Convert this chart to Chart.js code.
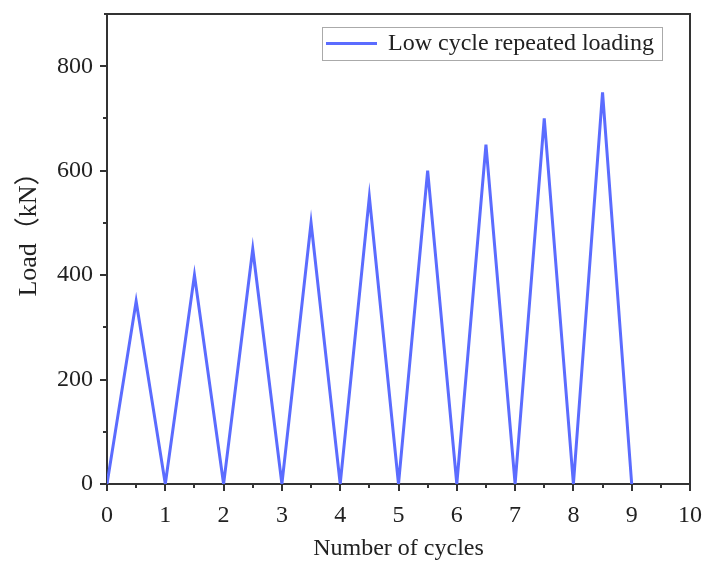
<!DOCTYPE html>
<html>
<head>
<meta charset="utf-8">
<script src="https://cdn.jsdelivr.net/npm/chart.js@4.4.1/dist/chart.umd.min.js"></script>
<style>
    html, body { margin: 0; padding: 0; background: #fff; }
    #wrap { width: 704px; height: 563px; position: relative; }
</style>
</head>
<body>
<div id="wrap"><canvas id="load-chart"></canvas></div>
<script>
// load protocol: each cycle goes up to a peak and back to zero
const cycles = [0, 0.5, 1, 1.5, 2, 2.5, 3, 3.5, 4, 4.5, 5, 5.5, 6, 6.5, 7, 7.5, 8, 8.5, 9];
const loads = [0, 350, 0, 400, 0, 450, 0, 500, 0, 550, 0, 600, 0, 650, 0, 700, 0, 750, 0];
const seriesName = 'Low cycle repeated loading';
const xTitle = 'Number of cycles';
const yTitle = 'Load（kN）';

const lineColor = '#5b6cff';
const axisColor = '#333333';
const serif = '"Liberation Serif", "Times New Roman", "Noto Sans CJK SC", serif';

// outward major/minor ticks, top/right frame, y title and the boxed legend
const framePlugin = {
    id: 'frame',
    afterDraw(chart) {
        const ctx = chart.ctx;
        const area = chart.chartArea;
        const x = chart.scales.x;
        const y = chart.scales.y;
        ctx.save();
        ctx.strokeStyle = axisColor;
        ctx.lineWidth = 2;

        ctx.beginPath();
        x.ticks.forEach(t => {
            const px = Math.round(x.getPixelForValue(t.value));
            const len = Number.isInteger(t.value) ? 7 : 4;
            ctx.moveTo(px, area.bottom);
            ctx.lineTo(px, area.bottom + len);
        });
        y.ticks.forEach(t => {
            const py = Math.round(y.getPixelForValue(t.value));
            if (t.value === y.max) return;
            const len = t.value % 200 === 0 ? 7 : 4;
            ctx.moveTo(area.left, py);
            ctx.lineTo(area.left - len, py);
        });
        ctx.stroke();

        ctx.beginPath();
        ctx.moveTo(area.left - 3, area.top);
        ctx.lineTo(area.right, area.top);
        ctx.lineTo(area.right, area.bottom);
        ctx.stroke();

        // y axis title
        ctx.fillStyle = '#222';
        ctx.font = '26px ' + serif;
        ctx.textAlign = 'center';
        ctx.textBaseline = 'middle';
        ctx.translate(29, 228);
        ctx.rotate(-Math.PI / 2);
        ctx.fillText(yTitle, 0, 0);
        ctx.setTransform(1, 0, 0, 1, 0, 0);

        // legend
        ctx.lineWidth = 1;
        ctx.strokeStyle = '#aaaaaa';
        ctx.strokeRect(322.5, 27.5, 340, 33);
        ctx.strokeStyle = lineColor;
        ctx.lineWidth = 3;
        ctx.beginPath();
        ctx.moveTo(326, 43.5);
        ctx.lineTo(377, 43.5);
        ctx.stroke();
        ctx.font = '24px ' + serif;
        ctx.textAlign = 'left';
        ctx.fillText(seriesName, 388, 44);
        ctx.restore();
    }
};

function noOverhang(scale) {
    scale.paddingTop = 0;
    scale.paddingBottom = 0;
    scale.paddingLeft = 0;
    scale.paddingRight = 0;
}

function initializeChart() {
    const ctx = document.getElementById('load-chart').getContext('2d');
    new Chart(ctx, {
        type: 'line',
        data: {
            datasets: [{
                label: seriesName,
                data: cycles.map((c, i) => ({ x: c, y: loads[i] })),
                borderColor: lineColor,
                borderWidth: 3,
                pointRadius: 0,
                tension: 0,
                fill: false
            }]
        },
        options: {
            responsive: true,
            maintainAspectRatio: false,
            animation: false,
            layout: { padding: { top: 14, right: 14, left: 0, bottom: 0 } },
            plugins: {
                legend: { display: false },
                tooltip: { enabled: false }
            },
            scales: {
                x: {
                    type: 'linear',
                    min: 0,
                    max: 10,
                    border: { display: true, color: axisColor, width: 2 },
                    grid: { display: false, drawTicks: false },
                    ticks: {
                        stepSize: 0.5,
                        autoSkip: false,
                        maxRotation: 0,
                        padding: 17,
                        color: '#222',
                        font: { family: serif, size: 24 },
                        callback: v => Number.isInteger(v) ? String(v) : ''
                    },
                    title: {
                        display: true,
                        text: xTitle,
                        color: '#222',
                        font: { family: serif, size: 24, lineHeight: 1 },
                        padding: { top: 0, bottom: 2 }
                    },
                    afterFit: scale => { scale.height = 79; noOverhang(scale); }
                },
                y: {
                    min: 0,
                    max: 900,
                    border: { display: true, color: axisColor, width: 2 },
                    grid: { display: false, drawTicks: false },
                    ticks: {
                        stepSize: 100,
                        autoSkip: false,
                        padding: 14,
                        color: '#222',
                        font: { family: serif, size: 24 },
                        callback: v => (v % 200 === 0 && v !== 900) ? String(v) : ''
                    },
                    title: { display: false },
                    afterFit: scale => { scale.width = 107; noOverhang(scale); }
                }
            }
        },
        plugins: [framePlugin]
    });
}

document.addEventListener('DOMContentLoaded', initializeChart);
</script>
</body>
</html>
